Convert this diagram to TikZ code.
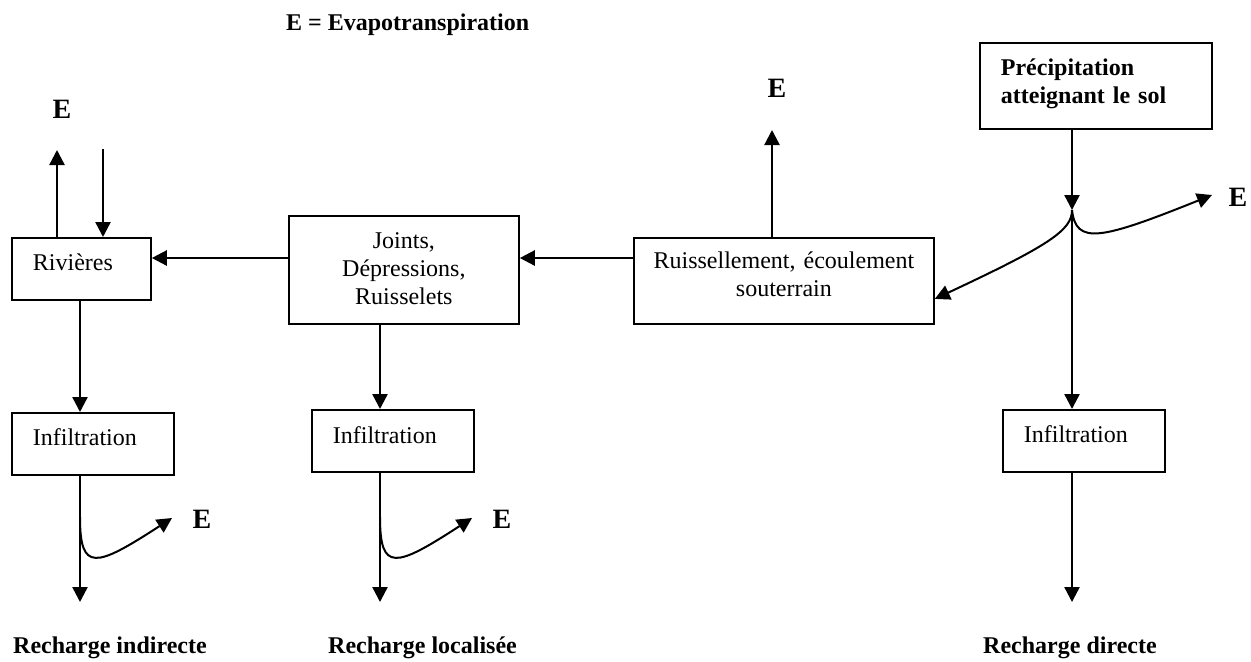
\documentclass[tikz,border=0pt]{standalone}
\usepackage{fontspec}
\setmainfont{Liberation Serif}
\usepackage{tikz}
\usetikzlibrary{arrows.meta}
\tikzstyle{boite} = [draw, line width=0.9pt, inner ysep=0pt, anchor=north west, text height=16.5pt]
\tikzstyle{evap} = [font=\fontsize{14}{16}\selectfont\bfseries]
\tikzstyle{titre} = [font=\fontsize{12}{13.8}\selectfont\bfseries, anchor=base west, inner sep=0pt]
\tikzstyle{courbe} = [line width=1pt]

\begin{document}
\fontsize{12}{13.8}\selectfont
\begin{tikzpicture}[x=0.5pt,y=-0.5pt,>={Triangle[length=7.5pt,width=7.5pt]},line width=1.2pt]
    \useasboundingbox (0,0) rectangle (1251,661);

    %legende
    \node[titre] (legende) at (285,30) {E = Evapotranspiration};

    %precipitation
    \node[boite, minimum width=116pt, text width=95pt, inner xsep=10.5pt, text depth=26.5pt, align=left, font=\bfseries] (precip) at (979,42) {Précipitation\\atteignant le sol};
    \coordinate (fourche) at (1072,210);
    \coordinate (eFourche) at (1212,195);
    \node[evap] (lblFourche) at (1238,197) {E};

    %ruissellement
    \node[boite, minimum width=150pt, text width=140pt, inner xsep=5pt, text height=15.5pt, text depth=27.5pt, align=center] (ruis) at (633,237) {Ruissellement, écoulement\\souterrain};
    \coordinate (eRuis) at (772,130);
    \node[evap] (lblRuis) at (777,88) {E};

    %joints
    \node[boite, minimum width=115pt, text width=105pt, inner xsep=5pt, text depth=37.5pt, align=center] (joints) at (288,215) {Joints,\\Dépressions,\\Ruisselets};

    %rivieres
    \node[boite, minimum width=69.5pt, text width=48.5pt, inner xsep=10.5pt, text depth=14.5pt, align=left] (riv) at (11,237) {Rivières};
    \coordinate (eRiv) at (57,150);
    \coordinate (versRiv) at (103,149);
    \node[evap] (lblRiv) at (62,109) {E};

    %infiltration
    \node[boite, minimum width=81pt, text width=60pt, inner xsep=10.5pt, text depth=14.5pt, align=left] (infG) at (11,412) {Infiltration};
    \node[boite, minimum width=81pt, text width=60pt, inner xsep=10.5pt, text height=17pt, text depth=14pt, align=left] (infM) at (311,409) {Infiltration};
    \node[boite, minimum width=81pt, text width=60pt, inner xsep=10.5pt, text depth=14.5pt, align=left] (infD) at (1002,409) {Infiltration};

    %fleches
    \coordinate (niveau) at (0,258);
    \coordinate (rivBas) at (80,300);
    \coordinate (jointsBas) at (380,323);
    \draw[->] (riv.north -| eRiv) -- (eRiv);
    \draw[->] (versRiv) -- (versRiv |- riv.north);
    \draw[->] (joints.west |- niveau) -- (riv.east |- niveau);
    \draw[->] (ruis.west |- niveau) -- (joints.east |- niveau);
    \draw[->] (ruis.north -| eRuis) -- (eRuis);
    \draw[->] (precip.south -| fourche) -- (fourche);
    \draw[->] (fourche) -- (infD.north -| fourche);
    \draw[->, courbe] (fourche) .. controls (1076,245) and (1100,240) .. (eFourche);
    \draw[->, courbe] (fourche) .. controls (1072,230) and (1050,245) .. ([yshift=-9pt]ruis.east);
    \draw[->] (riv.south -| rivBas) -- (rivBas |- infG.north);
    \draw[->] (joints.south -| jointsBas) -- (jointsBas |- infM.north);

    %recharge
    \foreach \b/\x in {infG/80,infM/380}
    {
      \coordinate (bas\b) at (\x,602);
      \coordinate (branche\b) at (\x,517);
      \coordinate (e\b) at (\x+92,518);
      \draw[->] (\b.south -| bas\b) -- (bas\b);
      \draw[->, courbe] (branche\b) .. controls +(0,55) and +(-77,50) .. (e\b);
      \node[evap] (lbl\b) at (\x+122,519) {E};
    }
    \coordinate (basD) at (1072,602);
    \draw[->] (infD.south -| basD) -- (basD);

    \node[titre] (rechG) at (12,653) {Recharge indirecte};
    \node[titre] (rechM) at (327,653) {Recharge localisée};
    \node[titre] (rechD) at (982,653) {Recharge directe};

\end{tikzpicture}
\end{document}
